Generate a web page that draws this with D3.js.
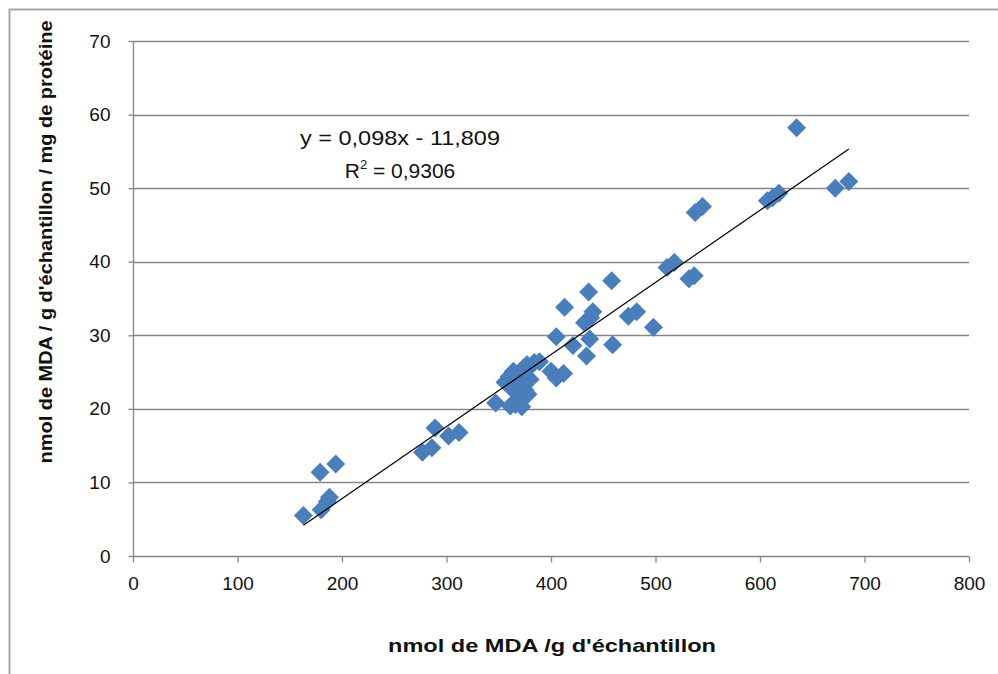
<!DOCTYPE html>
<html>
<head>
<meta charset="utf-8">
<script src="https://cdn.jsdelivr.net/npm/d3@7"></script>
<style>
  html, body { margin: 0; padding: 0; background: #fff; }
  svg { display: block; }
  text { font-family: "Liberation Sans", Arial, sans-serif; }
</style>
</head>
<body>
<svg id="chart" width="998" height="674"></svg>
<script>
// ---- data ----
const xValues = [163,180,186,188,179,194,
  277,286,289,302,312,
  347,356,360,364,366,368,370,372,375,377,378,380,384,389,361,372,374,378,365,369,
  400,405,412,405,413,421,432,434,436,437,438,440,458,459,474,482,498,511,518,532,537,538,545,607,612,618,635,672,685];
const yValues = [5.5,6.3,7.4,8.0,11.4,12.5,
  14.1,14.7,17.4,16.3,16.8,
  20.8,23.6,24.4,25.1,20.6,23.5,21.5,24.6,22.6,26.0,22.0,24.0,26.3,26.4,20.4,20.3,25.6,25.5,22.4,23.0,
  25.1,24.2,24.8,29.8,33.8,28.6,31.7,27.2,35.9,29.5,32.4,33.2,37.4,28.7,32.6,33.2,31.1,39.2,39.9,37.7,38.1,46.7,47.5,48.3,48.7,49.3,58.2,50.0,50.9];
const xTicks = [0,100,200,300,400,500,600,700,800];
const yTicks = [0,10,20,30,40,50,60,70];
const trendSlope = 0.098;
const trendIntercept = -11.809;
const equationLabel = "y = 0,098x - 11,809";
const r2Label = "0,9306";
const xTitle = "nmol de MDA /g d'échantillon";
const yTitle = "nmol de MDA / g d'échantillon / mg de protéine";

const points = xValues.map((v, i) => ({x: v, y: yValues[i]}));

// ---- layout ----
const svg = d3.select("#chart");
const pLeft = 133, pRight = 969, pTop = 41, pBottom = 556;
const xS = d3.scaleLinear().domain([0, 800]).range([pLeft, pRight]);
const yS = d3.scaleLinear().domain([0, 70]).range([pBottom, pTop]);

// outer frame (only left/top visible)
svg.append("rect").attr("x", 9.5).attr("y", 9.5).attr("width", 1100).attr("height", 800)
  .attr("fill", "none").attr("stroke", "#a6a6a6").attr("stroke-width", 2);

// gridlines
svg.append("g").selectAll("line").data(yTicks.filter(d => d > 0)).join("line")
  .attr("x1", pLeft).attr("x2", pRight)
  .attr("y1", d => Math.round(yS(d)) + 0.5).attr("y2", d => Math.round(yS(d)) + 0.5)
  .attr("stroke", "#868686").attr("stroke-width", 1.3);

// axes
const xAxis = svg.append("g").attr("transform", `translate(0,${pBottom + 0.5})`)
  .call(d3.axisBottom(xS).tickValues(xTicks).tickSize(6).tickPadding(14).tickFormat(d3.format("d")));
const yAxis = svg.append("g").attr("transform", `translate(${pLeft + 0.5},0)`)
  .call(d3.axisLeft(yS).tickValues(yTicks).tickSize(5).tickPadding(18).tickFormat(d3.format("d")));
[xAxis, yAxis].forEach(g => {
  g.select(".domain").attr("stroke", "#868686").attr("stroke-width", 1.3);
  g.selectAll(".tick line").attr("stroke", "#868686").attr("stroke-width", 1.3);
  g.selectAll(".tick text").attr("fill", "#111").attr("font-size", 19)
    .attr("font-family", "'Liberation Sans', Arial, sans-serif");
});
xAxis.select(".domain").attr("d", `M${pLeft},0H${pRight}`);
yAxis.select(".domain").attr("d", `M0,${pTop}V${pBottom}`);

// points (diamonds)
const r = 9.5;
svg.append("g").selectAll("path").data(points).join("path")
  .attr("d", d => {
    const cx = xS(d.x), cy = yS(d.y);
    return `M${cx},${cy - r}L${cx + r},${cy}L${cx},${cy + r}L${cx - r},${cy}Z`;
  })
  .attr("fill", "#4a7ebb");

// trendline
const xMin = d3.min(xValues), xMax = d3.max(xValues);
svg.append("line")
  .attr("x1", xS(xMin)).attr("y1", yS(trendSlope * xMin + trendIntercept))
  .attr("x2", xS(xMax)).attr("y2", yS(trendSlope * xMax + trendIntercept))
  .attr("stroke", "#000").attr("stroke-width", 1.2);

// equation
svg.append("text").attr("x", 400).attr("y", 145).attr("text-anchor", "middle")
  .attr("font-size", 21).attr("fill", "#111")
  .attr("textLength", 200).attr("lengthAdjust", "spacingAndGlyphs").text(equationLabel);
const r2 = svg.append("text").attr("x", 400).attr("y", 178).attr("text-anchor", "middle")
  .attr("font-size", 21).attr("fill", "#111");
r2.append("tspan").text("R");
r2.append("tspan").attr("font-size", 13).attr("dy", -9).text("2");
r2.append("tspan").attr("dy", 9).text(" = " + r2Label);

// axis titles
svg.append("text").attr("x", 552).attr("y", 652).attr("text-anchor", "middle")
  .attr("font-size", 19).attr("font-weight", "bold").attr("fill", "#111")
  .attr("textLength", 328).attr("lengthAdjust", "spacingAndGlyphs").text(xTitle);
svg.append("text").attr("transform", "translate(52,242) rotate(-90)").attr("text-anchor", "middle")
  .attr("font-size", 19).attr("font-weight", "bold").attr("fill", "#111")
  .attr("textLength", 443).attr("lengthAdjust", "spacingAndGlyphs").text(yTitle);
</script>
</body>
</html>
